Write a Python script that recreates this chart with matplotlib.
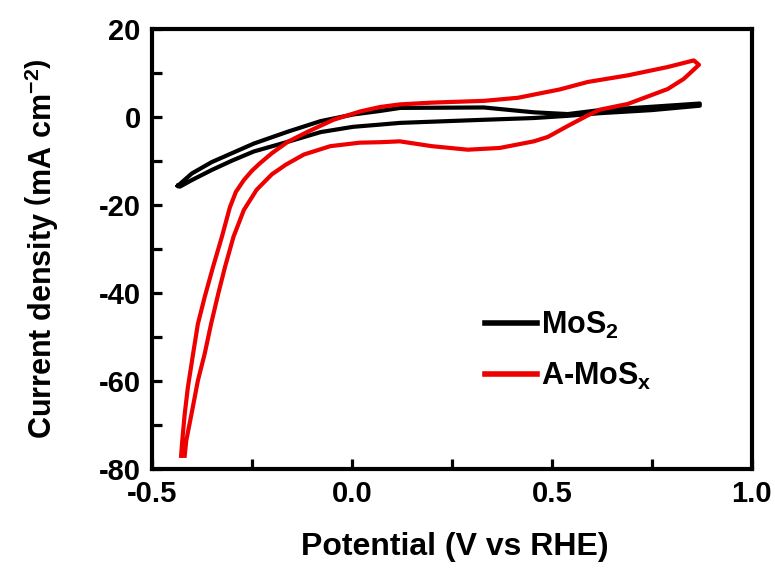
import matplotlib
matplotlib.use("Agg")
import matplotlib.pyplot as plt
from matplotlib.ticker import MultipleLocator

plt.rcParams['font.family'] = ['Liberation Sans', 'DejaVu Sans']
plt.rcParams['font.weight'] = 'bold'
plt.rcParams['mathtext.fontset'] = 'custom'
plt.rcParams['mathtext.rm'] = 'Liberation Sans:bold'
plt.rcParams['mathtext.it'] = 'Liberation Sans:bold'
plt.rcParams['mathtext.bf'] = 'Liberation Sans:bold'

# MoS2 CV loop (tip -> upper branch -> right end -> lower branch -> tip)
mos2_x = [-0.435, -0.40, -0.35, -0.30, -0.245, -0.16, -0.078, 0.003, 0.07, 0.121, 0.33, 0.455,
          0.54, 0.62, 0.74, 0.87,
          0.87, 0.75, 0.62, 0.54, 0.455, 0.33, 0.121, 0.07, 0.003, -0.078, -0.16, -0.245,
          -0.30, -0.35, -0.40, -0.43, -0.435]
mos2_y = [-15.6, -12.8, -10.2, -8.2, -6.0, -3.3, -0.9, 0.6, 1.4, 2.1, 2.2, 1.1,
          0.7, 1.6, 2.3, 3.1,
          2.6, 1.6, 0.9, 0.3, -0.2, -0.6, -1.3, -1.7, -2.2, -3.4, -5.6, -7.8,
          -9.9, -12.0, -14.3, -15.8, -15.6]

# A-MoSx CV loop
amosx_x = [-0.427, -0.424, -0.418, -0.41, -0.397, -0.385, -0.368, -0.347, -0.325, -0.305, -0.29,
           -0.27, -0.25, -0.23, -0.20, -0.16, -0.11, -0.046, 0.021, 0.07, 0.12, 0.20, 0.33, 0.415,
           0.52, 0.59, 0.69, 0.79, 0.855, 0.868,
           0.83, 0.79, 0.69, 0.62, 0.59, 0.54, 0.49, 0.455, 0.37, 0.29, 0.20, 0.12, 0.07, 0.02,
           -0.054, -0.12, -0.165, -0.20, -0.238, -0.27, -0.296, -0.317, -0.334, -0.352, -0.368,
           -0.385, -0.401, -0.414, -0.418]
amosx_y = [-77.0, -73.5, -67.5, -61.4, -53.8, -47.0, -40.9, -34.0, -27.2, -20.5, -17.0,
           -14.3, -12.2, -10.5, -8.2, -5.6, -3.3, -0.6, 1.3, 2.3, 2.9, 3.3, 3.7, 4.4,
           6.3, 8.0, 9.5, 11.4, 12.9, 11.9,
           8.7, 6.4, 3.0, 1.7, 0.4, -2.0, -4.5, -5.5, -7.0, -7.4, -6.6, -5.5, -5.7, -5.8,
           -6.6, -8.5, -10.8, -13.0, -16.5, -21.1, -27.2, -34.0, -40.1, -47.0, -53.8,
           -59.9, -67.5, -73.5, -77.0]

labels = ['MoS$_2$', 'A-MoS$_\\mathrm{x}$']
x_ticks = [-0.5, 0.0, 0.5, 1.0]
y_ticks = [-80, -60, -40, -20, 0, 20]

fig = plt.figure(figsize=(7.75, 5.72), dpi=100)
ax = fig.add_axes([0.196, 0.180, 0.774, 0.769])

ax.plot(mos2_x, mos2_y, color='black', lw=3.0, label=labels[0], solid_joinstyle='round')
ax.plot(amosx_x, amosx_y, color='#ee0000', lw=3.0, label=labels[1], solid_joinstyle='round')

ax.set_xlim(-0.5, 1.0)
ax.set_ylim(-80, 20)
ax.set_xticks(x_ticks)
ax.set_yticks(y_ticks)
ax.set_xticklabels([f'{v:.1f}' for v in x_ticks])
ax.set_yticklabels([str(v) for v in y_ticks])
ax.xaxis.set_minor_locator(MultipleLocator(0.25))
ax.yaxis.set_minor_locator(MultipleLocator(10))
ax.tick_params(which='both', direction='in', top=False, right=False, labelsize=21,
               width=2.3, length=7, pad=8)
for s in ax.spines.values():
    s.set_linewidth(3)

ax.set_xlabel('Potential (V vs RHE)', fontsize=23, fontweight='bold')
ax.xaxis.set_label_coords(0.505, -0.143)
ax.set_ylabel('Current density $\\left(\\mathrm{mA\\ cm^{-2}}\\right)$', fontsize=22, fontweight='bold')
ax.yaxis.set_label_coords(-0.152, 0.50)

leg = ax.legend(loc='center left', bbox_to_anchor=(0.509, 0.269), frameon=False, fontsize=22,
                handlelength=1.7, labelspacing=0.65, handletextpad=0.15)
for line in leg.get_lines():
    line.set_linewidth(4)

fig.savefig('out.png', dpi=100)
